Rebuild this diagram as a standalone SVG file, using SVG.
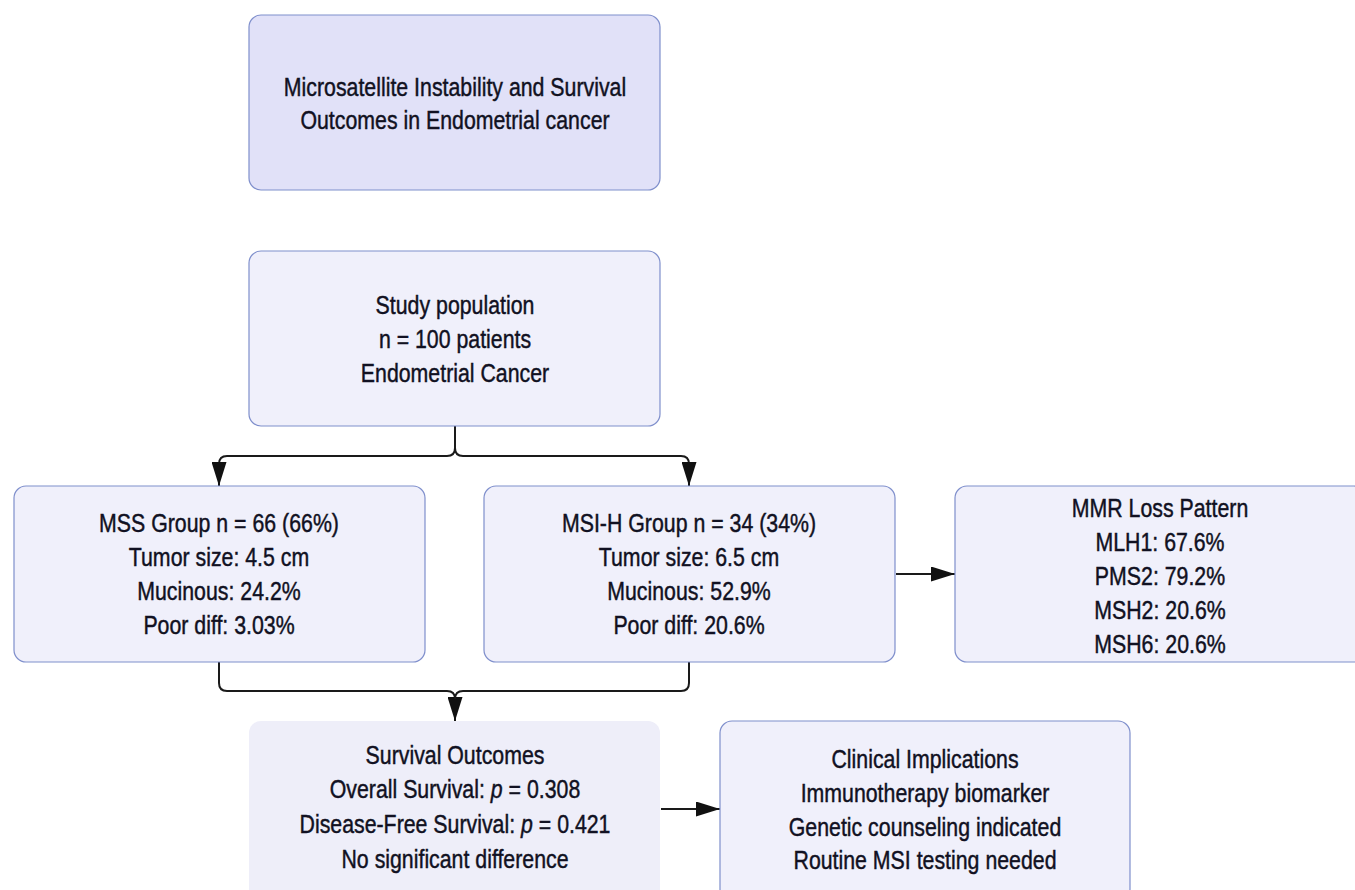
<svg xmlns="http://www.w3.org/2000/svg" width="1355" height="890" viewBox="0 0 1355 890">
<style>
.box{fill:#f0f0fb;stroke:#7f8fcc;stroke-width:1.2}
.title{fill:#e1e1f8}
.nob{stroke:none;fill:#eeeef9}
.t{font-family:"Liberation Sans",Arial,sans-serif;font-size:26px;fill:#111122;stroke:#111122;stroke-width:0.45;text-anchor:middle}
.c{fill:none;stroke:#1a1a1a;stroke-width:2}
</style>
<defs>
<marker id="ah" viewBox="0 0 24 15" refX="24" refY="7.5" markerWidth="24" markerHeight="15" markerUnits="userSpaceOnUse" orient="auto">
<path d="M0,0 L24,7.5 L0,15 Z" fill="#111"/>
</marker>
</defs>
<rect width="1355" height="890" fill="#ffffff"/>
<g id="connectors">
<path class="c" d="M455,426 V448 Q455,456 447,456 H227 Q219,456 219,464 V486" marker-end="url(#ah)"/>
<path class="c" d="M455,448 Q455,456 463,456 H681 Q689,456 689,464 V486" marker-end="url(#ah)"/>
<path class="c" d="M896,574 H955" marker-end="url(#ah)"/>
<path class="c" d="M219,662 V683 Q219,691 227,691 H447 Q455,691 455,699 V721" marker-end="url(#ah)"/>
<path class="c" d="M689,662 V683 Q689,691 681,691 H463 Q455,691 455,699"/>
<path class="c" d="M661,809 H720" marker-end="url(#ah)"/>
</g>
<g id="title">
<rect class="box title" x="249" y="15" width="411" height="175" rx="12"/>
<g transform="translate(455 0) scale(0.82 1)">
<text class="t" x="0" y="96">Microsatellite Instability and Survival</text>
<text class="t" x="0" y="129">Outcomes in Endometrial cancer</text>
</g>
</g>
<g id="study">
<rect class="box" x="249" y="251" width="411" height="175" rx="12"/>
<g transform="translate(455 0) scale(0.82 1)">
<text class="t" x="0" y="314">Study population</text>
<text class="t" x="0" y="348">n = 100 patients</text>
<text class="t" x="0" y="382">Endometrial Cancer</text>
</g>
</g>
<g id="mss">
<rect class="box" x="14" y="486" width="411" height="176" rx="12"/>
<g transform="translate(219 0) scale(0.82 1)">
<text class="t" x="0" y="532">MSS Group n = 66 (66%)</text>
<text class="t" x="0" y="566">Tumor size: 4.5 cm</text>
<text class="t" x="0" y="600">Mucinous: 24.2%</text>
<text class="t" x="0" y="634">Poor diff: 3.03%</text>
</g>
</g>
<g id="msih">
<rect class="box" x="484" y="486" width="411" height="176" rx="12"/>
<g transform="translate(689 0) scale(0.82 1)">
<text class="t" x="0" y="532">MSI-H Group n = 34 (34%)</text>
<text class="t" x="0" y="566">Tumor size: 6.5 cm</text>
<text class="t" x="0" y="600">Mucinous: 52.9%</text>
<text class="t" x="0" y="634">Poor diff: 20.6%</text>
</g>
</g>
<g id="mmr">
<rect class="box" x="955" y="486" width="411" height="176" rx="12"/>
<g transform="translate(1160 0) scale(0.82 1)">
<text class="t" x="0" y="517">MMR Loss Pattern</text>
<text class="t" x="0" y="551">MLH1: 67.6%</text>
<text class="t" x="0" y="585">PMS2: 79.2%</text>
<text class="t" x="0" y="619">MSH2: 20.6%</text>
<text class="t" x="0" y="653">MSH6: 20.6%</text>
</g>
</g>
<g id="survival">
<rect class="box nob" x="249" y="721" width="411" height="180" rx="12"/>
<g transform="translate(455 0) scale(0.82 1)">
<text class="t" x="0" y="764">Survival Outcomes</text>
<text class="t" x="0" y="798">Overall Survival: <tspan font-style="italic">p</tspan> = 0.308</text>
<text class="t" x="0" y="833">Disease-Free Survival: <tspan font-style="italic">p</tspan> = 0.421</text>
<text class="t" x="0" y="868">No significant difference</text>
</g>
</g>
<g id="clinical">
<rect class="box" x="720" y="721" width="410" height="180" rx="12"/>
<g transform="translate(925 0) scale(0.82 1)">
<text class="t" x="0" y="768">Clinical Implications</text>
<text class="t" x="0" y="802">Immunotherapy biomarker</text>
<text class="t" x="0" y="836">Genetic counseling indicated</text>
<text class="t" x="0" y="869">Routine MSI testing needed</text>
</g>
</g>
</svg>
